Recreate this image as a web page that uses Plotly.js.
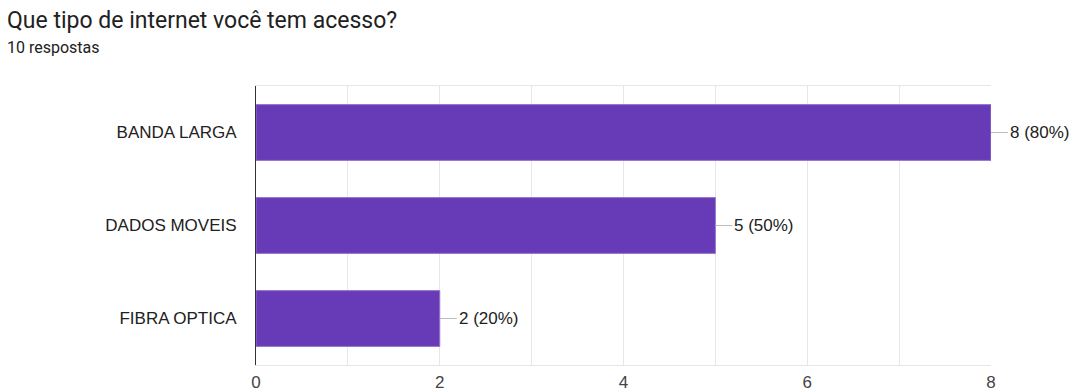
<!DOCTYPE html>
<html><head><meta charset="utf-8">
<script src="https://cdn.plot.ly/plotly-3.0.1.min.js"></script>
<style>body{margin:0;background:#fff}#chart{width:1078px;height:389px}</style>
</head><body><div id="chart"></div>
<script>
const categories = ["BANDA LARGA", "DADOS MOVEIS", "FIBRA OPTICA"];
const counts = [8, 5, 2];
const labels = ["8 (80%)", "5 (50%)", "2 (20%)"];
const tickVals = [0, 2, 4, 6, 8];
const titleText = "Que tipo de internet você tem acesso?";
const subtitleText = "10 respostas";

const trace = {
  type: "bar", orientation: "h",
  x: counts, y: categories,
  marker: {color: "#673ab7", line: {color: "#9575cd", width: 1}},
  hoverinfo: "none"
};
const annotations = categories.map((c, i) => ({
  x: counts[i], y: c, xref: "x", yref: "y",
  text: labels[i], showarrow: true, arrowhead: 0, arrowwidth: 1,
  arrowcolor: "#bdbdbd", ax: 17, ay: 0, xanchor: "left",
  font: {family: "Liberation Sans, Arial, sans-serif", size: 17, color: "#212121"}
}));
annotations.push({
  xref: "paper", yref: "paper", x: -251/735, y: 1 + (86-20)/279, xanchor: "left", yanchor: "middle",
  text: titleText, showarrow: false,
  font: {family: "Roboto, sans-serif", size: 23, color: "#212121"}
});
annotations.push({
  xref: "paper", yref: "paper", x: -251/735, y: 1 + (86-47)/279, xanchor: "left", yanchor: "middle",
  text: subtitleText, showarrow: false,
  font: {family: "Roboto, sans-serif", size: 16, color: "#212121"}
});
const layout = {
  width: 1078, height: 389,
  margin: {l: 256, r: 87, t: 86, b: 24},
  paper_bgcolor: "#fff", plot_bgcolor: "#fff",
  showlegend: false,
  bargap: 0.4,
  xaxis: {
    range: [0, 8], tickvals: tickVals, ticktext: tickVals.map(String),
    showgrid: true, gridcolor: "#e6e6e6", gridwidth: 1,
    minor: {dtick: 1, showgrid: true, gridcolor: "#e6e6e6", gridwidth: 1},
    zeroline: false, showline: true, linecolor: "#e6e6e6", linewidth: 1, mirror: true,
    ticks: "", ticklabelstandoff: 2,
    tickfont: {family: "Liberation Sans, Arial, sans-serif", size: 17, color: "#444"},
    fixedrange: true
  },
  yaxis: {
    range: [2.5, -0.5], type: "category",
    showgrid: false, zeroline: false,
    showline: true, linecolor: "#333", linewidth: 1,
    ticks: "", ticklabelstandoff: 15,
    tickfont: {family: "Liberation Sans, Arial, sans-serif", size: 17, color: "#212121"},
    fixedrange: true
  },
  annotations: annotations
};
Plotly.newPlot("chart", [trace], layout, {displayModeBar: false, staticPlot: true});
</script></body></html>
